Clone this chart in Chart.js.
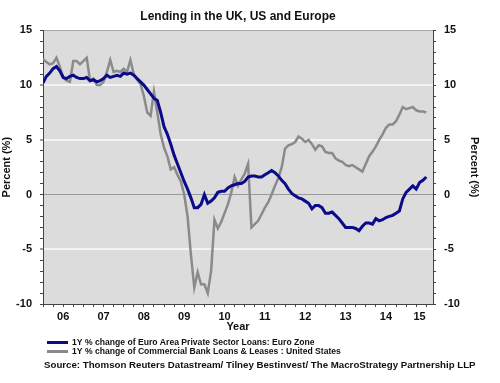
<!DOCTYPE html>
<html>
<head>
<meta charset="utf-8">
<script src="https://cdn.jsdelivr.net/npm/chart.js@4/dist/chart.umd.min.js"></script>
<style>
  html, body { margin: 0; padding: 0; background: #fff; }
  #wrap { width: 500px; height: 383px; }
</style>
</head>
<body>
<div id="wrap"><canvas id="lending"></canvas></div>
<script>
// monthly readings, Jan 2006 .. Jul 2015 (month index 0 = Jan 2006)
var euroLoans = [
  10.2, 10.8, 11.1, 11.5, 11.7, 11.3, 10.7, 10.6, 10.8, 10.9, 10.7, 10.6,
  10.6, 10.7, 10.4, 10.5, 10.3, 10.4, 10.6, 10.9, 10.7, 10.8, 10.9, 10.8,
  11.1, 11.0, 11.1, 10.9, 10.6, 10.3, 10.0, 9.6, 9.2, 8.8, 8.6, 7.5,
  6.2, 5.5, 4.6, 3.6, 2.8, 2.0, 1.2, 0.5, -0.3, -1.2, -1.2, -0.9,
  0.0, -0.8, -0.6, -0.3, 0.2, 0.3, 0.3, 0.6, 0.8, 0.9, 1.0, 1.0,
  1.2, 1.6, 1.7, 1.7, 1.6, 1.6, 1.8, 2.0, 2.2, 2.0, 1.7, 1.3,
  1.0, 0.5, 0.1, -0.1, -0.3, -0.4, -0.6, -0.8, -1.3, -1.0, -1.0, -1.2,
  -1.7, -1.7, -1.6, -1.9, -2.2, -2.6, -3.0, -3.0, -3.0, -3.1, -3.3, -2.9,
  -2.6, -2.6, -2.7, -2.2, -2.4, -2.3, -2.1, -2.0, -1.9, -1.7, -1.5, -0.4,
  0.2, 0.5, 0.8, 0.5, 1.1, 1.3, 1.6
];
var usLoans = [
  12.4, 12.1, 11.9, 12.0, 12.5, 11.7, 10.7, 10.4, 10.3, 12.2, 12.2, 11.9,
  12.2, 12.5, 10.4, 10.6, 10.0, 10.0, 10.3, 11.2, 12.3, 11.2, 11.3, 11.2,
  11.5, 11.2, 12.3, 11.0, 10.5, 10.1, 9.0, 7.5, 7.2, 9.4, 7.5, 5.5,
  4.3, 3.5, 2.3, 2.5, 1.8, 1.2, 0.0, -2.0, -5.5, -8.5, -7.1, -8.2,
  -8.2, -9.0, -7.0, -2.3, -3.1, -2.5, -1.7, -0.9, 0.2, 1.6, 0.8, 1.4,
  1.9, 2.8, -3.0, -2.7, -2.4, -1.8, -1.2, -0.7, 0.0, 0.8, 1.5, 2.5,
  4.2, 4.5, 4.6, 4.8, 5.3, 5.1, 4.8, 5.0, 4.6, 4.1, 4.5, 4.4,
  3.9, 3.8, 3.8, 3.3, 3.1, 3.0, 2.7, 2.6, 2.7, 2.5, 2.3, 2.1,
  2.8, 3.5, 3.9, 4.4, 5.0, 5.5, 6.1, 6.4, 6.4, 6.7, 7.3, 8.0,
  7.8, 7.9, 8.0, 7.7, 7.6, 7.6, 7.5
];
var yearLabels = ['06', '07', '08', '09', '10', '11', '12', '13', '14', '15'];
var yearLabelPos = [6, 18, 30, 42, 54, 66, 78, 90, 102, 112];
var seriesNames = [
  '1Y % change of Euro Area Private Sector Loans: Euro Zone',
  '1Y % change of Commercial Bank Loans & Leases : United States'
];
var sourceText = 'Source: Thomson Reuters Datastream/ Tilney Bestinvest/ The MacroStrategy Partnership LLP';

var FONT = "'Liberation Sans', Arial, sans-serif";
var BLUE = '#0a0a8a';
var GREY = '#8a8a8a';

function toPoints(arr) {
  return arr.map(function(v, i) { return {x: i, y: v}; });
}

var quarterTicks = [];
for (var q = 0; q <= 114; q += 3) quarterTicks.push(q);
var xTickValues = quarterTicks.concat([112]).sort(function(a, b) { return a - b; });

var yTickValues = [];
for (var t = -10; t <= 15; t++) yTickValues.push(t);

// grey plot background
var plotBg = {
  id: 'plotBg',
  beforeDraw: function(chart) {
    var a = chart.chartArea, ctx = chart.ctx;
    ctx.save();
    ctx.fillStyle = '#dcdcdc';
    ctx.fillRect(a.left, a.top, a.right - a.left, a.bottom - a.top);
    ctx.restore();
  }
};

// legend and source lines under the chart
var footer = {
  id: 'footer',
  afterDraw: function(chart) {
    var ctx = chart.ctx;
    ctx.save();
    var colors = [BLUE, GREY];
    var rows = [342.5, 351.5];
    ctx.font = 'bold 8.6px ' + FONT;
    ctx.textBaseline = 'middle';
    ctx.fillStyle = '#111';
    for (var i = 0; i < seriesNames.length; i++) {
      ctx.strokeStyle = colors[i];
      ctx.lineWidth = 3;
      ctx.beginPath();
      ctx.moveTo(47, rows[i]);
      ctx.lineTo(68, rows[i]);
      ctx.stroke();
      ctx.fillText(seriesNames[i], 72, rows[i] + 0.5);
    }
    ctx.font = 'bold 9.7px ' + FONT;
    ctx.fillText(sourceText, 44, 365.5);
    ctx.restore();
  }
};

Chart.defaults.font.family = FONT;
Chart.defaults.font.weight = 'bold';
Chart.defaults.color = '#111';

function yGridColor(ctx) {
  var v = ctx.tick ? ctx.tick.value : null;
  if (v === 0) return '#9a9a9a';
  if (v === 15) return '#a8a8a8';
  if (v === 5 || v === 10 || v === -5) return '#f4f4f4';
  return 'rgba(0,0,0,0)';
}

new Chart('lending', {
  type: 'line',
  data: {
    datasets: [
      {
        label: seriesNames[0],
        data: toPoints(euroLoans),
        borderColor: BLUE,
        borderWidth: 3,
        pointRadius: 0,
        tension: 0,
        yAxisID: 'y'
      },
      {
        label: seriesNames[1],
        data: toPoints(usLoans),
        borderColor: GREY,
        borderWidth: 2.5,
        pointRadius: 0,
        tension: 0,
        yAxisID: 'y'
      }
    ]
  },
  options: {
    responsive: true,
    maintainAspectRatio: false,
    animation: false,
    layout: { padding: { left: 0, right: 0, top: 0, bottom: 48 } },
    plugins: {
      legend: { display: false },
      tooltip: { enabled: false },
      title: {
        display: true,
        text: 'Lending in the UK, US and Europe',
        fullSize: false,
        font: { size: 12, weight: 'bold' },
        color: '#111',
        padding: { top: 9, bottom: 7 }
      }
    },
    scales: {
      x: {
        type: 'linear',
        min: 0,
        max: 116,
        afterBuildTicks: function(scale) {
          scale.ticks = xTickValues.map(function(v) { return {value: v}; });
        },
        afterFit: function(scale) { scale.height = 31; },
        ticks: {
          autoSkip: false,
          maxRotation: 0,
          padding: 3,
          font: { size: 11, weight: 'bold' },
          callback: function(value) {
            var k = yearLabelPos.indexOf(value);
            return k >= 0 ? yearLabels[k] : '';
          }
        },
        grid: {
          drawOnChartArea: false,
          tickLength: 3,
          tickColor: function(ctx) {
            return ctx.tick && ctx.tick.value === 112 ? 'rgba(0,0,0,0)' : '#444';
          }
        },
        border: { color: '#444', width: 1 },
        title: {
          display: true,
          text: 'Year',
          font: { size: 11, weight: 'bold' },
          padding: { top: 0, bottom: 1 }
        }
      },
      y: {
        position: 'left',
        min: -10,
        max: 15,
        afterBuildTicks: function(scale) {
          scale.ticks = yTickValues.map(function(v) { return {value: v}; });
        },
        afterFit: function(scale) { scale.width = 43; },
        ticks: {
          autoSkip: false,
          padding: 8,
          font: { size: 11, weight: 'bold' },
          callback: function(value) { return value % 5 === 0 ? value : ''; }
        },
        grid: {
          tickLength: 3,
          tickColor: '#444',
          tickWidth: 1,
          color: yGridColor,
          lineWidth: function(ctx) {
            var v = ctx.tick ? ctx.tick.value : null;
            return (v === 5 || v === 10 || v === -5) ? 2 : 1;
          }
        },
        border: { color: '#444', width: 1 },
        title: {
          display: true,
          text: 'Percent (%)',
          font: { size: 11, weight: 'bold' },
          padding: { top: 0, bottom: 0 }
        }
      },
      y2: {
        position: 'right',
        min: -10,
        max: 15,
        afterBuildTicks: function(scale) {
          scale.ticks = yTickValues.map(function(v) { return {value: v}; });
        },
        afterFit: function(scale) { scale.width = 67; },
        ticks: {
          autoSkip: false,
          padding: 8,
          font: { size: 11, weight: 'bold' },
          callback: function(value) { return value % 5 === 0 ? value : ''; }
        },
        grid: {
          drawOnChartArea: false,
          tickLength: 3,
          tickColor: '#444'
        },
        border: { color: '#444', width: 1 },
        title: {
          display: true,
          text: 'Percent (%)',
          font: { size: 11, weight: 'bold' },
          padding: { top: 19, bottom: 0 }
        }
      }
    }
  },
  plugins: [plotBg, footer]
});
</script>
</body>
</html>
